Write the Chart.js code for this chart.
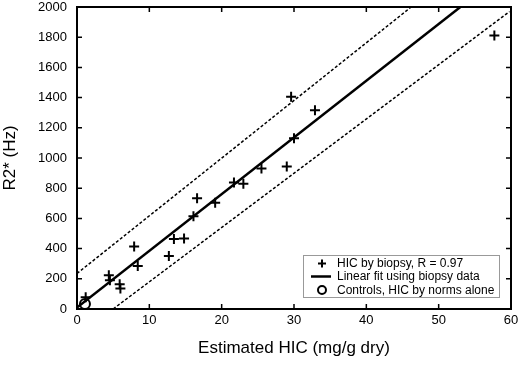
<!DOCTYPE html>
<html>
<head>
<meta charset="utf-8">
<script src="https://cdn.jsdelivr.net/npm/chart.js@4.4.1/dist/chart.umd.min.js"></script>
<style>
  html, body { margin: 0; padding: 0; background: #fff; }
  #wrap { width: 520px; height: 365px; }
</style>
</head>
<body>
<div id="wrap"><canvas id="hicChart" width="520" height="365"></canvas></div>
<script>
// values
const biopsyHIC = [1.2, 4.4, 4.55, 5.9, 6.0, 7.9, 8.4, 12.7, 13.4, 14.8, 16.1, 16.6, 19.1, 21.7, 23.0, 25.5, 29.0, 29.6, 30.0, 32.9, 57.7];
const biopsyR2 = [78, 224, 190, 164, 136, 414, 285, 351, 463, 467, 614, 733, 703, 838, 829, 930, 943, 1406, 1130, 1316, 1811];
const controlHIC = [1.1];
const controlR2 = [33];
const fitX = [0, 53.0];
const fitY = [10, 2000];
const upperX = [0, 46.2];
const upperY = [235, 2000];
const lowerX = [5.0, 59.8];
const lowerY = [0, 1970];
const xTicks = [0, 10, 20, 30, 40, 50, 60];
const yTicks = [0, 200, 400, 600, 800, 1000, 1200, 1400, 1600, 1800, 2000];
const legendLabels = ['HIC by biopsy, R = 0.97', 'Linear fit using biopsy data', 'Controls, HIC by norms alone'];

function pts(xs, ys) {
    return xs.map((v, i) => ({x: v, y: ys[i]}));
}

const FONT = '"Liberation Sans", Arial, sans-serif';

// inward ticks on all four sides + box
const framePlugin = {
    id: 'frame',
    afterDatasetsDraw(chart) {
        const {ctx, chartArea: a} = chart;
        const x = chart.scales.x, y = chart.scales.y;
        ctx.save();
        ctx.strokeStyle = '#000';
        ctx.lineWidth = 1.5;
        ctx.beginPath();
        xTicks.forEach(v => {
            const px = x.getPixelForValue(v);
            ctx.moveTo(px, a.bottom); ctx.lineTo(px, a.bottom - 5);
            ctx.moveTo(px, a.top); ctx.lineTo(px, a.top + 5);
        });
        yTicks.forEach(v => {
            const py = y.getPixelForValue(v);
            ctx.moveTo(a.left, py); ctx.lineTo(a.left + 5, py);
            ctx.moveTo(a.right, py); ctx.lineTo(a.right - 5, py);
        });
        ctx.stroke();
        ctx.lineWidth = 2;
        ctx.strokeRect(a.left, a.top, a.right - a.left, a.bottom - a.top);
        ctx.restore();
    }
};

// legend box in the lower right
const legendPlugin = {
    id: 'boxLegend',
    afterDraw(chart) {
        const {ctx, chartArea: a} = chart;
        const bx = a.right - 208, by = a.bottom - 54, bw = 196, bh = 42;
        ctx.save();
        ctx.fillStyle = '#fff';
        ctx.fillRect(bx, by, bw, bh);
        ctx.strokeStyle = '#999';
        ctx.lineWidth = 1;
        ctx.strokeRect(bx + 0.5, by + 0.5, bw, bh);
        ctx.fillStyle = '#000';
        ctx.strokeStyle = '#000';
        ctx.font = '12px ' + FONT;
        ctx.textBaseline = 'middle';
        const sx = bx + 19, tx = bx + 34;
        const rows = [by + 8.5, by + 21.5, by + 35];
        // cross
        ctx.lineWidth = 2;
        ctx.beginPath();
        ctx.moveTo(sx - 4, rows[0]); ctx.lineTo(sx + 4, rows[0]);
        ctx.moveTo(sx, rows[0] - 4); ctx.lineTo(sx, rows[0] + 4);
        ctx.stroke();
        // line
        ctx.lineWidth = 2.5;
        ctx.beginPath();
        ctx.moveTo(sx - 11, rows[1]); ctx.lineTo(sx + 9, rows[1]);
        ctx.stroke();
        // circle
        ctx.lineWidth = 2;
        ctx.beginPath();
        ctx.arc(sx, rows[2], 4, 0, Math.PI * 2);
        ctx.stroke();
        legendLabels.forEach((t, i) => ctx.fillText(t, tx, rows[i] + 0.5));
        ctx.restore();
    }
};

const ctx = document.getElementById('hicChart');
new Chart(ctx, {
    type: 'scatter',
    data: {
        datasets: [
            {
                label: 'upper',
                type: 'line',
                data: pts(upperX, upperY),
                borderColor: '#000',
                borderWidth: 1.5,
                borderDash: [3, 2],
                pointRadius: 0,
                fill: false
            },
            {
                label: 'lower',
                type: 'line',
                data: pts(lowerX, lowerY),
                borderColor: '#000',
                borderWidth: 1.5,
                borderDash: [3, 2],
                pointRadius: 0,
                fill: false
            },
            {
                label: legendLabels[1],
                type: 'line',
                data: pts(fitX, fitY),
                borderColor: '#000',
                borderWidth: 2.5,
                pointRadius: 0,
                fill: false
            },
            {
                label: legendLabels[0],
                data: pts(biopsyHIC, biopsyR2),
                pointStyle: 'cross',
                pointRadius: 5,
                borderColor: '#000',
                borderWidth: 2
            },
            {
                label: legendLabels[2],
                data: pts(controlHIC, controlR2),
                pointStyle: 'circle',
                pointRadius: 5,
                borderColor: '#000',
                backgroundColor: '#fff',
                borderWidth: 2
            }
        ]
    },
    options: {
        responsive: false,
        animation: false,
        layout: { padding: { top: 5, right: 9, left: 0, bottom: 0 } },
        plugins: {
            legend: { display: false },
            tooltip: { enabled: false }
        },
        scales: {
            x: {
                type: 'linear',
                min: 0,
                max: 60,
                grid: { display: false, drawTicks: false },
                border: { display: false },
                ticks: {
                    stepSize: 10,
                    padding: 4,
                    color: '#000',
                    font: { family: FONT, size: 13 },
                    callback: v => String(v)
                },
                title: {
                    display: true,
                    text: 'Estimated HIC (mg/g dry)',
                    color: '#000',
                    font: { family: FONT, size: 17 },
                    padding: { top: 0, bottom: 6 }
                },
                afterFit(s) {
                    s.height = 56;
                    s.paddingLeft = 0;
                    s.paddingRight = 0;
                }
            },
            y: {
                type: 'linear',
                min: 0,
                max: 2000,
                grid: { display: false, drawTicks: false },
                border: { display: false },
                ticks: {
                    stepSize: 200,
                    padding: 10,
                    color: '#000',
                    font: { family: FONT, size: 13 },
                    callback: v => String(v)
                },
                title: {
                    display: true,
                    text: 'R2* (Hz)',
                    color: '#000',
                    font: { family: FONT, size: 17 },
                    padding: { top: 0, bottom: 0 }
                },
                afterFit(s) {
                    s.width = 77;
                    s.paddingTop = 0;
                    s.paddingBottom = 0;
                }
            }
        }
    },
    plugins: [framePlugin, legendPlugin]
});
</script>
</body>
</html>
